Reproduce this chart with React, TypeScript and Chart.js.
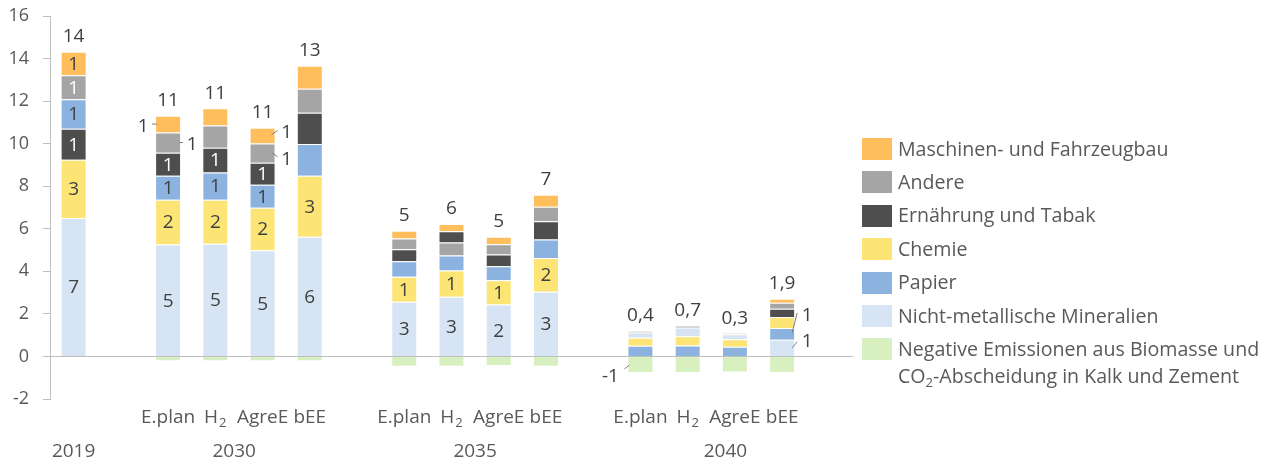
import React, { useEffect, useRef } from 'react';
import { Chart, registerables } from 'chart.js';

Chart.register(...registerables);

const FONT = "'Open Sans', 'Noto Sans', sans-serif";

// ---- data ----
const categories = ['', '', 'E.plan', 'H2', 'AgreE', 'bEE', '', 'E.plan', 'H2', 'AgreE', 'bEE', '', 'E.plan', 'H2', 'AgreE', 'bEE', ''];
const yearLabels = ['2019', '2030', '2035', '2040'];
const yearCenterIndex = [0, 3.4, 8.5, 13.8];

const maschinenbau = [1.10, null, 0.78, 0.82, 0.74, 1.08, null, 0.37, 0.35, 0.36, 0.56, null, 0.005, 0.02, 0.01, 0.19, null];
const andere = [1.13, null, 0.96, 1.04, 0.91, 1.13, null, 0.50, 0.60, 0.48, 0.69, null, 0.04, 0.03, 0.02, 0.28, null];
const ernaehrung = [1.45, null, 1.08, 1.16, 1.03, 1.47, null, 0.57, 0.53, 0.55, 0.85, null, 0.035, 0.06, 0.01, 0.39, null];
const chemie = [2.74, null, 2.11, 2.07, 2.00, 2.86, null, 1.18, 1.24, 1.14, 1.59, null, 0.38, 0.43, 0.35, 0.51, null];
const papier = [1.39, null, 1.12, 1.28, 1.08, 1.49, null, 0.72, 0.71, 0.66, 0.87, null, 0.50, 0.52, 0.46, 0.56, null];
const mineralien = [6.51, null, 5.26, 5.30, 4.99, 5.63, null, 2.57, 2.80, 2.44, 3.04, null, 0.25, 0.41, 0.23, 0.78, null];
const negativ = [0, null, -0.23, -0.23, -0.22, -0.23, null, -0.48, -0.48, -0.45, -0.48, null, -0.78, -0.78, -0.76, -0.78, null];

const totalDecimals = [0, null, 0, 0, 0, 0, null, 0, 0, 0, 0, null, 1, 1, 1, 1, null];

type Key = 'masch' | 'andere' | 'ern' | 'chemie' | 'papier' | 'min' | 'neg';

const series: { key: Key; label: string; color: string; values: (number | null)[] }[] = [
  { key: 'masch', label: 'Maschinen- und Fahrzeugbau', color: '#FEBE5C', values: maschinenbau },
  { key: 'andere', label: 'Andere', color: '#A5A5A5', values: andere },
  { key: 'ern', label: 'Ernährung und Tabak', color: '#4E4E4E', values: ernaehrung },
  { key: 'chemie', label: 'Chemie', color: '#FCE575', values: chemie },
  { key: 'papier', label: 'Papier', color: '#8CB3DF', values: papier },
  { key: 'min', label: 'Nicht-metallische Mineralien', color: '#D6E4F3', values: mineralien },
  { key: 'neg', label: 'Negative Emissionen aus Biomasse und CO2-Abscheidung in Kalk und Zement', color: '#D8EFC0', values: negativ },
];

// labels drawn inside segments
const insideLabels: [number, Key][] = [
  [0, 'min'], [0, 'chemie'], [0, 'ern'], [0, 'papier'], [0, 'andere'], [0, 'masch'],
  [2, 'min'], [2, 'chemie'], [2, 'papier'], [2, 'ern'],
  [3, 'min'], [3, 'chemie'], [3, 'papier'], [3, 'ern'],
  [4, 'min'], [4, 'chemie'], [4, 'papier'], [4, 'ern'],
  [5, 'min'], [5, 'chemie'],
  [7, 'min'], [7, 'chemie'], [8, 'min'], [8, 'chemie'], [9, 'min'], [9, 'chemie'], [10, 'min'], [10, 'chemie'],
];

// labels placed outside with leader lines (offsets relative to bar centre / segment centre)
const callouts: { cat: number; key: Key; tx: number; ty: number; l: [number, number, number, number] }[] = [
  { cat: 2, key: 'masch', tx: -25, ty: 3, l: [-16, 0, -11, 0] },
  { cat: 2, key: 'andere', tx: 24, ty: 2, l: [11, 0, 15, 0] },
  { cat: 4, key: 'masch', tx: 24, ty: -3, l: [9, -1, 15, -5] },
  { cat: 4, key: 'andere', tx: 24, ty: 6, l: [9, -0.5, 15, 3.5] },
  { cat: 12, key: 'neg', tx: -30, ty: 12, l: [-16, 4, -11, 0] },
  { cat: 15, key: 'papier', tx: 25, ty: -18, l: [10, -1, 15, -21] },
  { cat: 15, key: 'min', tx: 25, ty: -6, l: [10, 0, 15, -6] },
];

// ---- stacking: each bar's segments sorted by size (largest at the bottom) ----
const positives = series.filter((s) => s.key !== 'neg');
const rankOf: Record<string, number>[] = [];
const sortedKeys: (typeof positives)[] = [];
categories.forEach((_, i) => {
  const present = positives.filter((s) => s.values[i] !== null);
  const sorted = [...present].sort((a, b) => (b.values[i] as number) - (a.values[i] as number));
  sortedKeys[i] = sorted;
  const m: Record<string, number> = {};
  sorted.forEach((s, r) => (m[s.key] = r));
  rankOf[i] = m;
});

function fmt(v: number, d: number) {
  return v.toFixed(d).replace('.', ',');
}

function drawSubLabel(ctx: CanvasRenderingContext2D, text: string, x: number, y: number, size: number) {
  // "H2" -> H with subscript 2
  const m = /^([A-Za-z]+)(\d)$/.exec(text);
  if (!m) {
    ctx.textAlign = 'center';
    ctx.fillText(text, x, y);
    return;
  }
  const mainFont = `${size}px ${FONT}`;
  const subFont = `${Math.round(size * 0.68)}px ${FONT}`;
  ctx.font = mainFont;
  const w1 = ctx.measureText(m[1]).width;
  ctx.font = subFont;
  const w2 = ctx.measureText(m[2]).width;
  const left = x - (w1 + w2 + 1) / 2;
  ctx.textAlign = 'left';
  ctx.font = mainFont;
  ctx.fillText(m[1], left, y);
  ctx.font = subFont;
  ctx.fillText(m[2], left + w1 + 1, y + size * 0.3);
  ctx.font = mainFont;
}

const labelPlugin = {
  id: 'customLabels',
  afterDatasetsDraw(chart: any) {
    const ctx: CanvasRenderingContext2D = chart.ctx;
    const xs = chart.scales.x;
    const ys = chart.scales.y;
    const negIndex = positives.length;
    const seg = (cat: number, key: Key) => {
      const di = key === 'neg' ? negIndex : rankOf[cat][key];
      const el = chart.getDatasetMeta(di).data[cat];
      const p = el.getProps(['x', 'y', 'base'], true);
      return { x: p.x, y: (p.y + p.base) / 2 };
    };
    const valueOf = (cat: number, key: Key) => series.find((s) => s.key === key)!.values[cat] as number;
    ctx.save();
    ctx.textBaseline = 'middle';
    ctx.textAlign = 'center';
    ctx.font = `19px ${FONT}`;
    // inside labels
    insideLabels.forEach(([cat, key]) => {
      const p = seg(cat, key);
      ctx.fillStyle = key === 'ern' || key === 'andere' ? '#FFFFFF' : '#404040';
      ctx.fillText(String(Math.round(valueOf(cat, key))), p.x, p.y + 1);
    });
    // callouts
    callouts.forEach((c) => {
      const p = seg(c.cat, c.key);
      ctx.strokeStyle = '#7F7F7F';
      ctx.lineWidth = 1;
      ctx.beginPath();
      ctx.moveTo(p.x + c.l[0], p.y + c.l[1]);
      ctx.lineTo(p.x + c.l[2], p.y + c.l[3]);
      ctx.stroke();
      ctx.fillStyle = '#404040';
      ctx.fillText(String(Math.round(valueOf(c.cat, c.key))), p.x + c.tx, p.y + c.ty);
    });
    // totals
    categories.forEach((_, i) => {
      if (totalDecimals[i] === null) return;
      let pos = 0;
      positives.forEach((s) => (pos += (s.values[i] as number) || 0));
      const total = pos + ((negativ[i] as number) || 0);
      const x = xs.getPixelForValue(i);
      const y = ys.getPixelForValue(pos) - 15;
      ctx.fillStyle = '#404040';
      ctx.fillText(fmt(total, totalDecimals[i] as number), x, y);
    });
    // category labels (first row)
    ctx.fillStyle = '#595959';
    categories.forEach((c, i) => {
      if (!c) return;
      ctx.font = `19px ${FONT}`;
      drawSubLabel(ctx, c, xs.getPixelForValue(i), 418, 19);
    });
    // year labels (second row)
    ctx.textAlign = 'center';
    ctx.font = `19px ${FONT}`;
    yearLabels.forEach((yl, k) => {
      ctx.fillText(yl, xs.getPixelForValue(yearCenterIndex[k]), 452);
    });
    ctx.restore();
  },
};

export default function App() {
  const ref = useRef<HTMLCanvasElement>(null);
  useEffect(() => {
    if (!ref.current) return;
    const datasets: any[] = [];
    for (let r = 0; r < positives.length; r++) {
      datasets.push({
        label: 'rank' + r,
        data: categories.map((_, i) => (sortedKeys[i][r] ? sortedKeys[i][r].values[i] : null)),
        backgroundColor: categories.map((_, i) => (sortedKeys[i][r] ? sortedKeys[i][r].color : 'rgba(0,0,0,0)')),
        borderColor: 'rgba(255,255,255,0.45)',
        borderWidth: 1,
        stack: 'a',
      });
    }
    const negSeries = series.find((s) => s.key === 'neg')!;
    datasets.push({
      label: negSeries.label,
      data: negSeries.values,
      backgroundColor: negSeries.color,
      borderColor: 'rgba(255,255,255,0.45)',
      borderWidth: 1,
      stack: 'a',
    });
    const chart = new Chart(ref.current, {
      type: 'bar',
      data: { labels: categories, datasets },
      options: {
        animation: false,
        responsive: false,
        layout: { autoPadding: false, padding: { top: 16, right: 423, bottom: 66, left: 0 } } as any,
        datasets: { bar: { categoryPercentage: 1, barPercentage: 0.55 } } as any,
        plugins: { legend: { display: false }, tooltip: { enabled: false } },
        scales: {
          x: { type: 'category', display: false, stacked: true, offset: true, grid: { display: false } },
          y: {
            stacked: true,
            min: -2,
            max: 16,
            afterFit: (s: any) => {
              s.width = 50;
              s.paddingTop = 0;
              s.paddingBottom = 0;
            },
            ticks: { stepSize: 2, color: '#595959', font: { family: FONT, size: 18 }, padding: 14 },
            grid: {
              color: (c: any) => (c.tick && c.tick.value === 0 ? '#BFBFBF' : 'rgba(0,0,0,0)'),
              tickColor: '#BFBFBF',
              tickLength: 7,
              lineWidth: 1,
            },
            border: { color: '#BFBFBF' },
          },
        },
      },
      plugins: [labelPlugin],
    });
    return () => chart.destroy();
  }, []);

  const legendItems = series;
  return (
    <div style={{ position: 'fixed', left: 0, top: 0, width: 1276, height: 465, background: '#fff' }}>
      <canvas ref={ref} width={1276} height={465} style={{ display: 'block' }} />
      <div style={{ position: 'absolute', left: 862, top: 138, fontFamily: FONT, fontSize: 19.6, color: '#595959' }}>
        {legendItems.map((it, k) => (
          <div key={it.key} style={{ position: 'absolute', left: 0, top: k * 33.4, display: 'flex', alignItems: 'flex-start' }}>
            <div style={{ width: 30, height: 22, background: it.color, flex: 'none' }} />
            <div style={{ marginLeft: 6, lineHeight: '26.7px', marginTop: -2.35, whiteSpace: 'nowrap' }}>
              {it.key === 'neg' ? (
                <>
                  Negative Emissionen aus Biomasse und
                  <br />
                  CO<sub style={{ fontSize: 13, verticalAlign: '-4px', lineHeight: 0 }}>2</sub>-Abscheidung in Kalk und Zement
                </>
              ) : (
                it.label
              )}
            </div>
          </div>
        ))}
      </div>
    </div>
  );
}
